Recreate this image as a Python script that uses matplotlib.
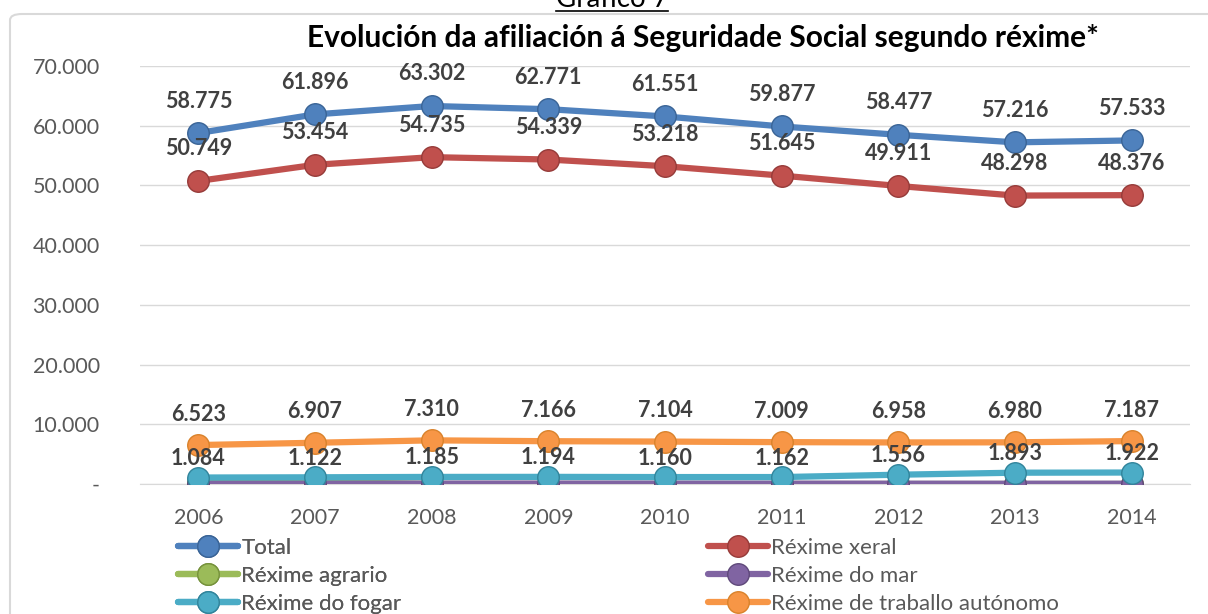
import matplotlib.pyplot as plt
from matplotlib.patches import FancyBboxPatch
from matplotlib.lines import Line2D
from matplotlib.ticker import FuncFormatter

plt.rcParams['font.family'] = ['Lato', 'DejaVu Sans']

# Data
years = ['2006', '2007', '2008', '2009', '2010', '2011', '2012', '2013', '2014']
total = [58775, 61896, 63302, 62771, 61551, 59877, 58477, 57216, 57533]
xeral = [50749, 53454, 54735, 54339, 53218, 51645, 49911, 48298, 48376]
agrario = [349, 345, 0, 0, 0, 0, 0, 0, 0]
mar = [70, 68, 72, 72, 69, 61, 52, 45, 48]
fogar = [1084, 1122, 1185, 1194, 1160, 1162, 1556, 1893, 1922]
autonomo = [6523, 6907, 7310, 7166, 7104, 7009, 6958, 6980, 7187]

series = [
    ('Total', total, '#4F81BD', '#3A6496', 32),
    ('Réxime xeral', xeral, '#C0504D', '#963B39', 32),
    ('Réxime agrario', agrario, '#9BBB59', '#76923C', None),
    ('Réxime do mar', mar, '#8064A2', '#5F497A', None),
    ('Réxime do fogar', fogar, '#4BACC6', '#31849B', 19),
    ('Réxime de traballo autónomo', autonomo, '#F79646', '#D9822B', 31),
]


def fmt(v):
    return f"{v:,}".replace(",", ".")


fig = plt.figure(figsize=(12.08, 6.14), dpi=100)

# chart border
border = FancyBboxPatch((10 / 1208, -0.1), 1.2, 1 - 14 / 614 + 0.1,
                        boxstyle='round,pad=0,rounding_size=0.01',
                        transform=fig.transFigure, facecolor='white',
                        edgecolor='#D9D9D9', linewidth=1.5, zorder=-10)
fig.patches.append(border)

ax = fig.add_axes([140 / 1208, 130 / 614, 1050 / 1208, 418 / 614])
ax.set_facecolor('none')
x = list(range(len(years)))

handles = {}
for name, vals, color, edge, off in series:
    h, = ax.plot(x, vals, color=color, linewidth=4.5, marker='o', markersize=15.5,
                 markerfacecolor=color, markeredgecolor=edge, markeredgewidth=1,
                 solid_capstyle='round', zorder=3)
    handles[name] = h
    if off is not None:
        for xi, v in zip(x, vals):
            ax.annotate(fmt(v), (xi, v), xytext=(0, off * 0.72), textcoords='offset points',
                        ha='center', va='center', fontsize=15.5, fontweight='bold',
                        color='#404040', zorder=5)

ax.set_xlim(-0.5, len(years) - 0.5)
ax.set_ylim(0, 70000)
ax.set_yticks(range(0, 70001, 10000))
ax.yaxis.set_major_formatter(FuncFormatter(lambda v, p: '-' if v == 0 else fmt(int(v))))
ax.set_xticks(x)
ax.set_xticklabels(years)
ax.tick_params(axis='y', length=0, pad=29, labelsize=15.5, labelcolor='#595959')
ax.tick_params(axis='x', length=0, pad=17, labelsize=15.5, labelcolor='#595959')
ax.grid(axis='y', color='#D9D9D9', linewidth=1)
ax.set_axisbelow(True)
for s in ['top', 'right', 'left']:
    ax.spines[s].set_visible(False)
ax.spines['bottom'].set_color('#D9D9D9')

fig.text(703 / 1208, 1 - 38 / 614, 'Evolución da afiliación á Seguridade Social segundo réxime*',
         ha='center', va='center', fontsize=21.5, fontweight='bold', color='black')

gt = fig.text(612 / 1208, 1 - 7 / 614, 'Gráfico 7', ha='center', va='baseline',
              fontsize=20, color='black')

left_names = ['Total', 'Réxime agrario', 'Réxime do fogar']
right_names = ['Réxime xeral', 'Réxime do mar', 'Réxime de traballo autónomo']
leg_kw = dict(frameon=False, loc='upper left', fontsize=16, labelcolor='#595959',
              handlelength=2.7, handletextpad=0.15, borderpad=0, borderaxespad=0,
              labelspacing=0.35)
leg1 = fig.legend([handles[n] for n in left_names], left_names,
                  bbox_to_anchor=(178 / 1208, 1 - 538 / 614), **leg_kw)
fig.add_artist(leg1)
fig.legend([handles[n] for n in right_names], right_names,
           bbox_to_anchor=(708 / 1208, 1 - 538 / 614), **leg_kw)

# underline for "Gráfico 7"
fig.canvas.draw()
bb = gt.get_window_extent().transformed(fig.transFigure.inverted())
fig.add_artist(Line2D([bb.x0, bb.x1], [1 - 11 / 614, 1 - 11 / 614],
                      transform=fig.transFigure, color='black', linewidth=1.2))

fig.savefig('out.png', dpi=100)
